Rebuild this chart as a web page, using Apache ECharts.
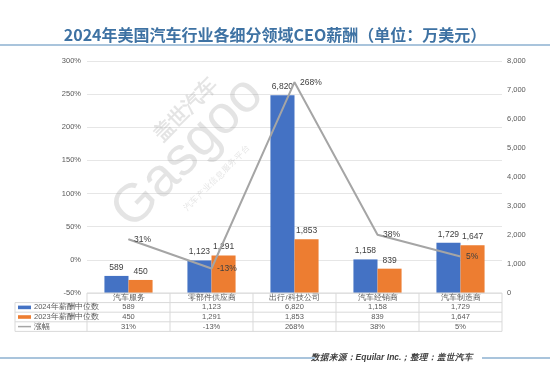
<!DOCTYPE html>
<html><head><meta charset="utf-8">
<script src="https://cdn.jsdelivr.net/npm/echarts@6/dist/echarts.min.js"></script>
<style>html,body{margin:0;padding:0;background:#fff}#wrap{position:relative;width:550px;height:378px}#c{width:550px;height:378px}
.ln{position:absolute;height:2px;background:#a9c4dc;top:357px;z-index:10}</style>
</head><body><div id="wrap"><div id="c"></div><div class="ln" style="left:0;width:315px"></div><div class="ln" style="left:482px;width:68px"></div></div>
<script>
const titleText = '2024年美国汽车行业各细分领域CEO薪酬（单位：万美元）';
const sourceText = '数据来源：Equilar Inc.；整理：盖世汽车';
const categories = ['汽车服务', '零部件供应商', '出行/科技公司', '汽车经销商', '汽车制造商'];
const seriesNames = ['2024年薪酬中位数', '2023年薪酬中位数', '涨幅'];
const pay2024 = [589, 1123, 6820, 1158, 1729];
const pay2023 = [450, 1291, 1853, 839, 1647];
const growth = [31, -13, 268, 38, 5];
const leftTicks = {min: -50, max: 300, interval: 50};
const rightTicks = {min: 0, max: 8000, interval: 1000};

const fmt = v => v.toLocaleString('en-US');
const blue = '#4472c4', orange = '#ed7d31', gray = '#a5a5a5';
const chart = echarts.init(document.getElementById('c'));
const G = {left: 87, right: 48, top: 61, bottom: 85};

const base = {
  backgroundColor: '#fff',
  animation: false,
  title: {text: titleText, left: 'center', top: 22, textStyle: {fontSize: 16, fontWeight: 'bold', color: '#3e72a3', fontFamily: 'Noto Sans CJK SC'}},
  grid: G,
  xAxis: {type: 'category', data: categories, axisLabel: {show: false}, axisTick: {show: false}, axisLine: {show: false}},
  yAxis: [
    {type: 'value', min: leftTicks.min, max: leftTicks.max, interval: leftTicks.interval,
     axisLabel: {formatter: '{value}%', fontSize: 7.5, color: '#595959', margin: 6},
     splitLine: {lineStyle: {color: '#e6e6e6', width: 1}}, axisLine: {show: false}, axisTick: {show: false}},
    {type: 'value', min: rightTicks.min, max: rightTicks.max, interval: rightTicks.interval,
     axisLabel: {formatter: v => fmt(v), fontSize: 7.5, color: '#595959', margin: 5},
     splitLine: {show: false}, axisLine: {show: false}, axisTick: {show: false}}
  ],
  series: [
    {name: seriesNames[0], type: 'bar', yAxisIndex: 1, data: pay2024, barGap: '0%', barCategoryGap: '42%',
     itemStyle: {color: blue}, label: {show: true, position: 'top', distance: 4, fontSize: 8.5, color: '#404040', formatter: p => fmt(p.value)}},
    {name: seriesNames[1], type: 'bar', yAxisIndex: 1, data: pay2023,
     itemStyle: {color: orange}, label: {show: true, position: 'top', distance: 4, fontSize: 8.5, color: '#404040', formatter: p => fmt(p.value)}},
    {name: seriesNames[2], type: 'line', yAxisIndex: 0, data: growth, symbol: 'circle', symbolSize: 1, showSymbol: true, z: 5,
     itemStyle: {color: gray},
     lineStyle: {color: gray, width: 2}, label: {show: true, position: 'right', distance: 5, fontSize: 8.5, color: '#404040', formatter: p => p.value + '%'}}
  ]
};
chart.setOption(base);

const xs = categories.map(c => chart.convertToPixel({xAxisIndex: 0}, c));
const step = xs[1] - xs[0];
const x0 = xs[0] - step / 2, x1 = xs[xs.length - 1] + step / 2;
const yTop = chart.convertToPixel({yAxisIndex: 0}, leftTicks.min);
const rowH = 9.6;
const legX = 15;
const lc = '#d9d9d9';
const g = [];
let n = 0;
const add = o => { o.id = 'g' + (n++); if (o.z === undefined) o.z = 100; g.push(o); };
add({type: 'line', shape: {x1: x0, y1: yTop, x2: x1, y2: yTop}, style: {stroke: lc, lineWidth: 1}});
for (let r = 1; r <= 4; r++) {
  const y = yTop + r * rowH;
  add({type: 'line', shape: {x1: legX, y1: y, x2: x1, y2: y}, style: {stroke: lc, lineWidth: 1}});
}
for (let i = 0; i <= categories.length; i++) {
  const x = x0 + i * step;
  add({type: 'line', shape: {x1: x, y1: yTop, x2: x, y2: yTop + 4 * rowH}, style: {stroke: lc, lineWidth: 1}});
}
add({type: 'line', shape: {x1: legX, y1: yTop + rowH, x2: legX, y2: yTop + 4 * rowH}, style: {stroke: lc, lineWidth: 1}});
const rows = [categories, pay2024.map(fmt), pay2023.map(fmt), growth.map(v => v + '%')];
rows.forEach((row, r) => row.forEach((t, i) => {
  add({type: 'text', x: xs[i], y: yTop + r * rowH + rowH / 2,
    style: {text: t, fontSize: 7.5, fill: '#595959', align: 'center', verticalAlign: 'middle'}});
}));
const keyCols = [blue, orange, gray];
seriesNames.forEach((nm, k) => {
  const cy = yTop + (k + 1) * rowH + rowH / 2;
  if (k < 2) add({type: 'rect', shape: {x: legX + 3, y: cy - 1.8, width: 13, height: 3.6}, style: {fill: keyCols[k]}});
  else add({type: 'line', shape: {x1: legX + 3, y1: cy, x2: legX + 16, y2: cy}, style: {stroke: gray, lineWidth: 1.5}});
  add({type: 'text', x: legX + 19, y: cy, style: {text: nm, fontSize: 7.5, fill: '#595959', align: 'left', verticalAlign: 'middle'}});
});
add({type: 'rect', shape: {x: 0, y: 44, width: 550, height: 2}, style: {fill: '#a9c4dc'}});
add({type: 'text', x: 392, y: 357.5, style: {text: sourceText, fontSize: 8.5, fontStyle: 'italic', fontWeight: 'bold', fill: '#404040', align: 'center', verticalAlign: 'middle'}});
const wm = 'rgba(150,150,150,0.26)';
add({type: 'text', x: 188, y: 153, rotation: Math.PI / 4, z: 0, style: {text: 'Gasgoo', fontSize: 54, fontFamily: 'Arial', fill: wm, align: 'center', verticalAlign: 'middle'}});
add({type: 'text', x: 186, y: 110, rotation: Math.PI / 4, z: 0, style: {text: '盖世汽车', fontSize: 20, fontWeight: 'bold', fill: wm, align: 'center', verticalAlign: 'middle'}});
add({type: 'text', x: 217, y: 178, rotation: Math.PI / 4, z: 0, style: {text: '汽车产业信息服务平台', fontSize: 8.5, fill: wm, align: 'center', verticalAlign: 'middle'}});
chart.setOption({graphic: g});
</script></body></html>
